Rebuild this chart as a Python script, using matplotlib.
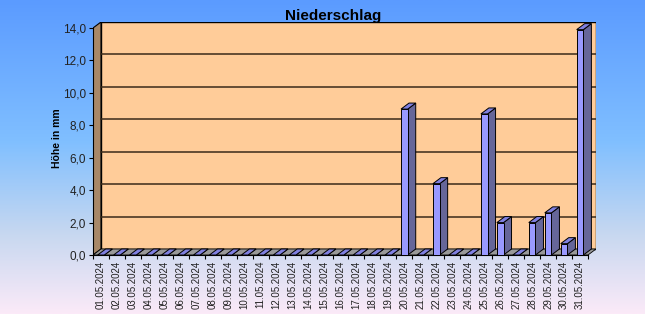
import numpy as np
import matplotlib.pyplot as plt
from matplotlib.patches import Polygon, Rectangle
from matplotlib.colors import LinearSegmentedColormap

plt.rcParams['font.family'] = ['Liberation Sans', 'DejaVu Sans']

# Daily precipitation, May 2024
dates = ["%02d.05.2024" % d for d in range(1, 32)]
values = [0, 0, 0, 0, 0, 0, 0, 0, 0, 0,
          0, 0, 0, 0, 0, 0, 0, 0, 0, 9.0,
          0, 4.4, 0, 0, 8.7, 2.0, 0, 2.0, 2.6, 0.7,
          13.9]
yticks = [0, 2, 4, 6, 8, 10, 12, 14]
ytick_labels = ["0,0", "2,0", "4,0", "6,0", "8,0", "10,0", "12,0", "14,0"]

fig = plt.figure(figsize=(6.45, 3.14), dpi=100)

# gradient background
bg = fig.add_axes([0, 0, 1, 1], zorder=-10)
cmap = LinearSegmentedColormap.from_list(
    "bg", [(0, "#5B9BFF"), (0.45, "#80BFFF"), (0.75, "#C8D8F0"), (1, "#FBEAF8")])
bg.imshow(np.linspace(0, 1, 256).reshape(-1, 1), aspect="auto", cmap=cmap,
          extent=[0, 1, 0, 1], origin="upper")
bg.axis("off")

n = len(values)
dx, dy = 0.5, 0.37  # depth offset of the 3D look
ax = fig.add_axes([93 / 645, 59 / 314, 503 / 645, 233 / 314])
ax.patch.set_alpha(0)
ax.set_xlim(-0.5, n - 0.5 + dx)
ax.set_ylim(0, 14 + dy)
x0, x1 = -0.5, n - 0.5

# walls and floor
ax.add_patch(Rectangle((x0 + dx, dy), x1 - x0, 14, facecolor="#FFCC99",
                       edgecolor="black", lw=1, zorder=1))
ax.add_patch(Polygon([(x0, 0), (x0 + dx, dy), (x0 + dx, 14 + dy), (x0, 14)],
                     facecolor="#A88868", edgecolor="black", lw=0.8, zorder=1))
ax.add_patch(Polygon([(x0, 0), (x1, 0), (x1 + dx, dy), (x0 + dx, dy)],
                     facecolor="#999999", edgecolor="black", lw=0.6, zorder=1))
for y in yticks[1:-1]:
    ax.plot([x0 + dx, x1 + dx], [y + dy, y + dy], color="#3a2a1a", lw=1.1, zorder=2)

# bars with side and top faces
w = 0.42
for i, v in enumerate(values):
    l, r = i - w / 2, i + w / 2
    ax.add_patch(Polygon([(r, 0), (r + dx, dy), (r + dx, v + dy), (r, v)],
                         facecolor="#666699", edgecolor="black", lw=0.7, zorder=3))
    ax.add_patch(Polygon([(l, v), (r, v), (r + dx, v + dy), (l + dx, v + dy)],
                         facecolor="#8080E0", edgecolor="black", lw=0.7, zorder=3))
    if v > 0:
        ax.add_patch(Rectangle((l, 0), w, v, facecolor="#9999FF",
                               edgecolor="black", lw=0.7, zorder=4))

for s in ["top", "right"]:
    ax.spines[s].set_visible(False)
ax.spines["left"].set_bounds(0, 14)
ax.spines["bottom"].set_bounds(x0, x1)
ax.set_yticks(yticks)
ax.set_yticklabels(ytick_labels, fontsize=8.5, color="#222222")
ax.tick_params(axis="y", length=3, width=0.8, pad=2)
ax.set_xticks(range(n))
ax.set_xticklabels(dates, rotation=90, fontsize=7, color="#222222")
ax.set_xticks(np.arange(x0, x1 + 0.1, 1), minor=True)
ax.tick_params(axis="x", which="major", length=0, pad=4)
ax.tick_params(axis="x", which="minor", length=3, width=0.8)
ax.set_ylabel("Höhe in mm", fontsize=7.5, fontweight="bold", labelpad=1)

fig.text(0.516, 0.95, "Niederschlag", ha="center", va="center",
         fontsize=11, fontweight="bold")

fig.savefig("out.png", dpi=100)
